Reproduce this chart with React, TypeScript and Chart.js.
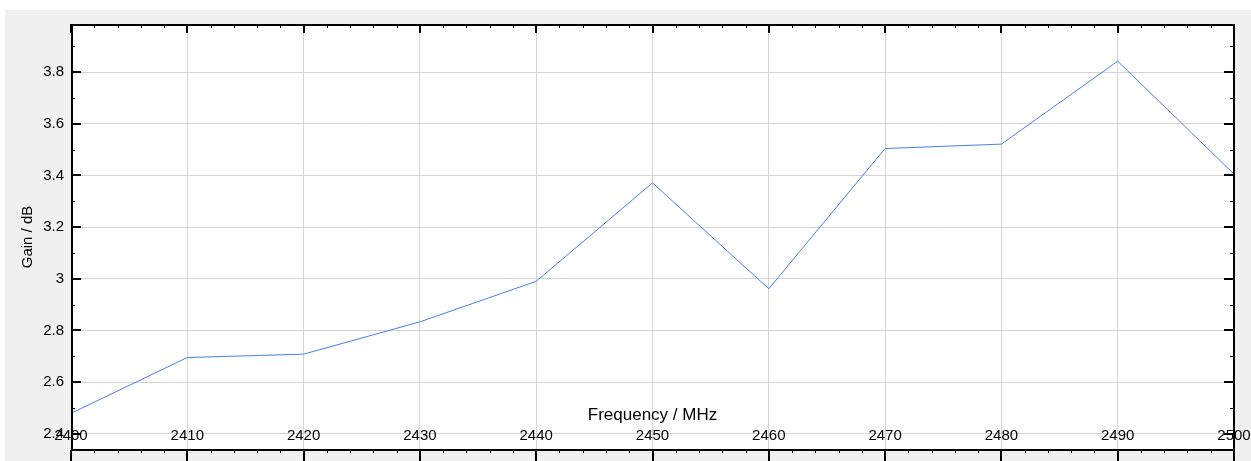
import React, { useEffect, useRef } from "react";
import { Chart, registerables } from "chart.js";

Chart.register(...registerables);

const frequencies = [2400, 2410, 2420, 2430, 2440, 2450, 2460, 2470, 2480, 2490, 2500];
const gainValues = [2.479, 2.695, 2.708, 2.833, 2.99, 3.371, 2.961, 3.504, 3.521, 3.842, 3.405];

const xTickValues = [2400, 2410, 2420, 2430, 2440, 2450, 2460, 2470, 2480, 2490, 2500];
const xTickLabels = ["2400", "2410", "2420", "2430", "2440", "2450", "2460", "2470", "2480", "2490", "2500"];
const yTickValues = [2.4, 2.6, 2.8, 3.0, 3.2, 3.4, 3.6, 3.8];
const yTickLabels = ["2.4", "2.6", "2.8", "3", "3.2", "3.4", "3.6", "3.8"];

const X_MIN = 2400;
const X_MAX = 2500;
const Y_MIN = 2.337;
const Y_MAX = 3.986;
const X_MINOR_STEP = 2;
const Y_MINOR_STEP = 0.1;

const FONT = "'Liberation Sans', Arial, sans-serif";

const framePlugin = {
  id: "frame",
  beforeDraw(chart: any) {
    const { ctx, width, height, chartArea: a } = chart;
    ctx.save();
    ctx.fillStyle = "#ffffff";
    ctx.fillRect(0, 0, width, height);
    ctx.fillStyle = "#f0f0f0";
    ctx.fillRect(5, 10, width - 5, height - 10);
    ctx.fillStyle = "#ffffff";
    ctx.fillRect(a.left, a.top, a.right - a.left, a.bottom - a.top);
    ctx.restore();
  },
  afterDraw(chart: any) {
    const { ctx, chartArea: a, scales } = chart;
    const x = scales.x;
    const y = scales.y;
    ctx.save();
    ctx.strokeStyle = "#000000";
    // x ticks (top inside, bottom outside)
    const nx = Math.round((X_MAX - X_MIN) / X_MINOR_STEP);
    for (let i = 0; i <= nx; i++) {
      const v = X_MIN + i * X_MINOR_STEP;
      const major = i % 5 === 0;
      const px = Math.round(x.getPixelForValue(v));
      ctx.lineWidth = major ? 2 : 1;
      const cx = major ? px : px + 0.5;
      ctx.beginPath();
      ctx.moveTo(cx, a.top);
      ctx.lineTo(cx, a.top + (major ? 9 : 4));
      ctx.moveTo(cx, a.bottom);
      ctx.lineTo(cx, a.bottom + (major ? 11 : 3));
      ctx.stroke();
    }
    // y ticks (left and right, inside)
    const ny = Math.round((3.9 - 2.4) / Y_MINOR_STEP);
    for (let i = 0; i <= ny; i++) {
      const v = 2.4 + i * Y_MINOR_STEP;
      const major = i % 2 === 0;
      const py = Math.round(y.getPixelForValue(v));
      if (py < a.top || py > a.bottom) continue;
      ctx.lineWidth = major ? 2 : 1;
      const cy = major ? py : py + 0.5;
      ctx.beginPath();
      ctx.moveTo(a.left, cy);
      ctx.lineTo(a.left + (major ? 10 : 4), cy);
      ctx.moveTo(a.right, cy);
      ctx.lineTo(a.right - (major ? 10 : 4), cy);
      ctx.stroke();
    }
    // frame
    ctx.lineWidth = 2;
    ctx.beginPath();
    ctx.moveTo(a.left + 1, a.top);
    ctx.lineTo(a.left + 1, a.bottom);
    ctx.moveTo(a.left, a.top + 1);
    ctx.lineTo(a.right + 1, a.top + 1);
    ctx.moveTo(a.right, a.top);
    ctx.lineTo(a.right, a.bottom + 1);
    ctx.moveTo(a.left, a.bottom);
    ctx.lineTo(a.right + 1, a.bottom);
    ctx.stroke();
    ctx.restore();
  },
};

export default function App() {
  const canvasRef = useRef<HTMLCanvasElement | null>(null);

  useEffect(() => {
    const canvas = canvasRef.current;
    if (!canvas) return;
    Chart.defaults.font.family = FONT;
    const chart = new Chart(canvas, {
      type: "line",
      data: {
        datasets: [
          {
            data: frequencies.map((f, i) => ({ x: f, y: gainValues[i] })),
            borderColor: "#4a7cfc",
            borderWidth: 1,
            pointRadius: 0,
            fill: false,
            tension: 0,
          },
        ],
      },
      options: {
        animation: false,
        responsive: false,
        devicePixelRatio: 1,
        layout: { padding: { top: 24, right: 17, left: 0, bottom: 0 } },
        plugins: {
          legend: { display: false },
          tooltip: { enabled: false },
        },
        scales: {
          x: {
            type: "linear",
            position: "bottom",
            min: X_MIN,
            max: X_MAX,
            afterBuildTicks: (s: any) => {
              s.ticks = xTickValues.map((v) => ({ value: v }));
            },
            afterFit: (s: any) => {
              s.height = 11;
              s.paddingLeft = 0;
              s.paddingRight = 0;
            },
            grid: { color: "#d4d4d4", lineWidth: 1, drawTicks: false },
            border: { display: false },
            ticks: {
              autoSkip: false,
              maxRotation: 0,
              minRotation: 0,
              mirror: true,
              padding: 5,
              color: "#000000",
              font: { family: FONT, size: 15 },
              callback: (_v: any, i: number) => xTickLabels[i],
            },
            title: {
              display: true,
              text: "Frequency / MHz",
              color: "#000000",
              font: { family: FONT, size: 17 },
              padding: { top: 0, bottom: 35 },
            },
          },
          y: {
            type: "linear",
            position: "left",
            min: Y_MIN,
            max: Y_MAX,
            afterBuildTicks: (s: any) => {
              s.ticks = yTickValues.map((v) => ({ value: v }));
            },
            afterFit: (s: any) => {
              s.width = 71;
              s.paddingTop = 0;
              s.paddingBottom = 0;
            },
            grid: { color: "#d4d4d4", lineWidth: 1, drawTicks: false },
            border: { display: false },
            ticks: {
              padding: 7,
              color: "#000000",
              font: { family: FONT, size: 15 },
              callback: (_v: any, i: number) => yTickLabels[i],
            },
            title: {
              display: true,
              text: "Gain / dB",
              color: "#000000",
              font: { family: FONT, size: 15 },
              padding: { top: 19, bottom: 0 },
            },
          },
        },
      },
      plugins: [framePlugin],
    });
    return () => chart.destroy();
  }, []);

  return (
    <div style={{ position: "absolute", left: 0, top: 0, width: 1251, height: 461 }}>
      <canvas ref={canvasRef} width={1251} height={461} style={{ display: "block" }} />
    </div>
  );
}
